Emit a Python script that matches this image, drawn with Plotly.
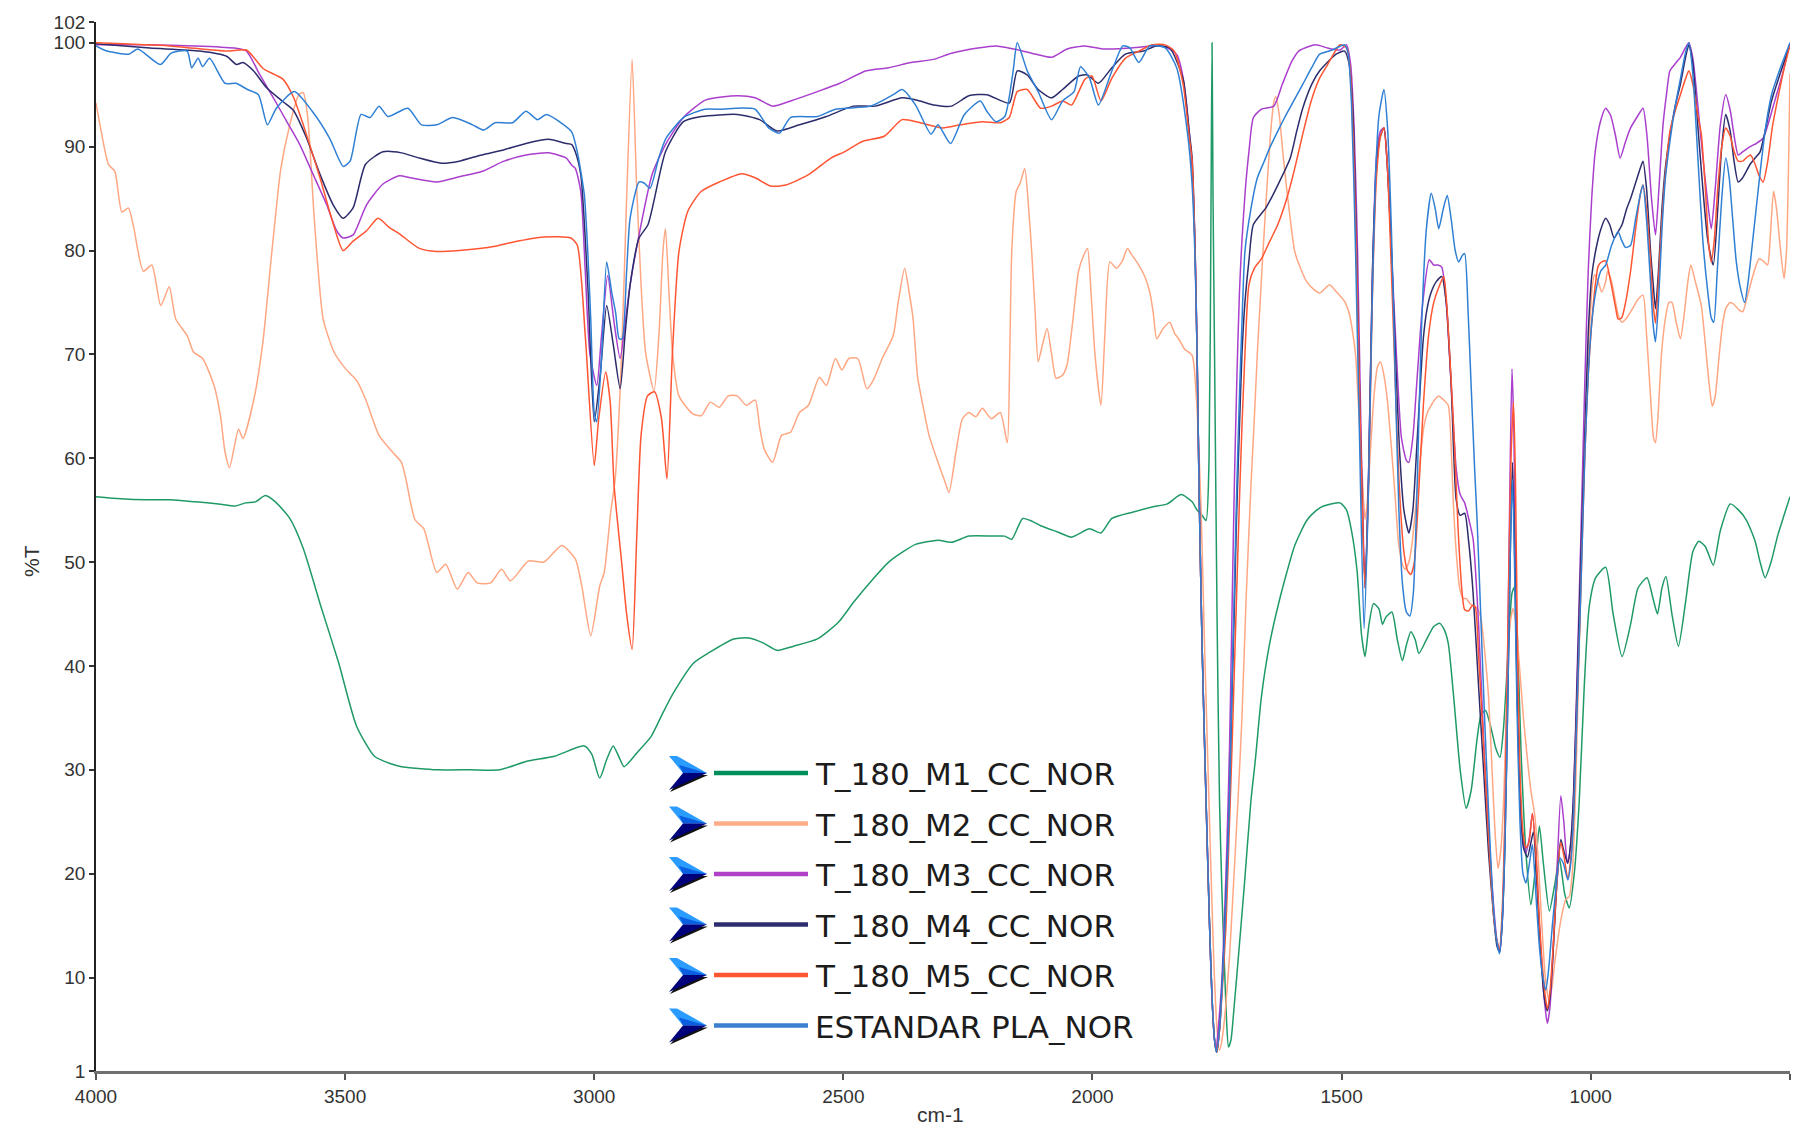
import plotly.graph_objects as go

# ---------------- spectra (wavenumber cm-1, %T) ----------------
wn_m1 = [4000, 3950, 3900, 3850, 3800, 3754, 3720, 3700, 3680, 3660, 3640, 3611, 3584, 3549, 3513, 3477,
         3441, 3410, 3387, 3316, 3250, 3190, 3137, 3080, 3020, 3005, 2989, 2975, 2962, 2950, 2940, 2915,
         2886, 2862, 2841, 2800, 2769, 2720, 2690, 2660, 2633, 2600, 2552, 2510, 2480, 2440, 2409, 2380,
         2355, 2310, 2283, 2248, 2200, 2176, 2162, 2140, 2120, 2104, 2070, 2042, 2006, 1983, 1961, 1920,
         1880, 1850, 1822, 1800, 1790, 1780, 1772, 1766, 1762, 1760, 1758, 1755, 1750, 1745, 1740, 1735,
         1731, 1727, 1722, 1716, 1708, 1695, 1682, 1673, 1661, 1645, 1628, 1610, 1594, 1570, 1550, 1536,
         1503, 1490, 1480, 1469, 1460, 1453, 1445, 1436, 1425, 1418, 1411, 1399, 1388, 1378, 1370, 1361,
         1352, 1345, 1330, 1315, 1303, 1294, 1286, 1275, 1262, 1250, 1240, 1228, 1220, 1211, 1200, 1190,
         1182, 1175, 1165, 1158, 1153, 1148, 1140, 1130, 1120, 1112, 1103, 1095, 1083, 1072, 1063, 1052,
         1043, 1033, 1023, 1013, 1003, 990, 970, 955, 937, 920, 905, 887, 875, 866, 857, 849, 837, 824,
         810, 795, 783, 770, 754, 740, 720, 703, 687, 670, 660, 650, 638, 625, 612, 600]
t_m1 = [56.3, 56.1, 56.0, 56.0, 55.8, 55.6, 55.4, 55.7, 55.8, 56.4, 55.8, 54.2, 51.3, 45.8, 40.3, 34.2,
        31.3, 30.6, 30.3, 30.0, 30.0, 30.0, 30.8, 31.3, 32.3, 31.5, 29.2, 31.0, 32.3, 31.2, 30.3, 31.6,
        33.2, 35.5, 37.4, 40.3, 41.3, 42.6, 42.7, 42.2, 41.5, 41.9, 42.6, 44.2, 46.1, 48.4, 50.0, 51.0,
        51.7, 52.1, 51.9, 52.5, 52.5, 52.5, 52.2, 54.2, 53.9, 53.5, 52.9, 52.4, 53.2, 52.8, 54.2, 54.8,
        55.3, 55.6, 56.5, 55.8, 55.0, 54.5, 54.0, 60.0, 85.0, 100.0, 85.0, 70.0, 45.0, 27.0, 18.0, 11.0,
        6.0, 3.3, 4.0, 7.0, 11.5, 19.0, 27.0, 31.0, 37.0, 42.0, 45.7, 49.0, 51.6, 54.0, 55.0, 55.4,
        55.7, 55.0, 53.0, 49.2, 43.0, 40.9, 44.0, 46.0, 45.5, 44.0, 44.7, 45.2, 42.5, 40.5, 42.0, 43.3,
        42.5, 41.2, 42.5, 43.8, 44.1, 43.5, 42.2, 37.0, 30.0, 26.3, 28.0, 33.0, 35.3, 35.7, 34.0, 32.0,
        31.2, 34.0, 42.0, 47.0, 47.6, 44.0, 32.0, 22.0, 17.0, 20.0, 24.6, 21.0, 16.4, 19.0, 21.5, 18.0,
        16.7, 20.0, 27.0, 38.0, 45.7, 48.5, 49.5, 45.0, 40.9, 44.0, 47.5, 48.5, 46.5, 45.0, 47.5, 48.6, 45.0, 41.9,
        46.0, 51.0, 52.0, 51.5, 49.7, 53.0, 55.6, 55.0, 54.0, 52.0, 50.0, 48.5, 50.0, 52.5, 54.5, 56.3]

wn_m2 = [4000, 3992, 3975, 3962, 3948, 3935, 3925, 3905, 3888, 3870, 3853, 3840, 3817, 3804, 3786, 3763,
         3750, 3741, 3732, 3714, 3705, 3683, 3665, 3647, 3629, 3611, 3593, 3584, 3575, 3562, 3544, 3522,
         3499, 3477, 3459, 3432, 3405, 3387, 3378, 3360, 3342, 3316, 3298, 3275, 3253, 3235, 3208, 3186,
         3168, 3132, 3101, 3065, 3038, 3025, 3007, 2989, 2980, 2967, 2958, 2945, 2935, 2924, 2915, 2906,
         2897, 2880, 2870, 2862, 2857, 2850, 2843, 2830, 2803, 2785, 2767, 2749, 2731, 2713, 2695, 2677,
         2668, 2659, 2642, 2624, 2606, 2588, 2570, 2548, 2534, 2516, 2503, 2489, 2471, 2453, 2440, 2422,
         2400, 2390, 2377, 2368, 2360, 2351, 2340, 2328, 2310, 2298, 2288, 2274, 2261, 2248, 2234, 2221,
         2203, 2185, 2171, 2166, 2162, 2153, 2145, 2136, 2128, 2122, 2115, 2109, 2100, 2091, 2082, 2073,
         2060, 2051, 2040, 2028, 2018, 2010, 2003, 1995, 1983, 1975, 1965, 1952, 1940, 1930, 1920, 1907,
         1895, 1885, 1878, 1871, 1858, 1845, 1835, 1827, 1815, 1800, 1791, 1782, 1775, 1768, 1762, 1756,
         1750, 1745, 1740, 1733, 1725, 1718, 1708, 1700, 1692, 1682, 1675, 1669, 1660, 1652, 1643, 1636,
         1632, 1625, 1618, 1611, 1603, 1594, 1580, 1570, 1557, 1544, 1530, 1524, 1510, 1494, 1485, 1478,
         1472, 1466, 1461, 1456, 1453, 1449, 1443, 1435, 1428, 1422, 1415, 1408, 1400, 1392, 1386, 1378,
         1372, 1365, 1358, 1350, 1342, 1335, 1327, 1320, 1312, 1305, 1295, 1286, 1280, 1276, 1270, 1263,
         1256, 1250, 1242, 1235, 1227, 1220, 1212, 1205, 1198, 1192, 1186, 1180, 1174, 1168, 1162, 1156,
         1150, 1143, 1135, 1127, 1120, 1112, 1105, 1098, 1092, 1087, 1083, 1078, 1072, 1065, 1058, 1050,
         1043, 1037, 1031, 1025, 1018, 1010, 1003, 997, 992, 985, 978, 970, 966, 958, 950, 943, 937, 928,
         916, 905, 895, 888, 880, 874, 870, 865, 858, 850, 843, 837, 828, 820, 812, 805, 799, 790, 778,
         770, 762, 756, 750, 742, 735, 729, 720, 712, 703, 695, 686, 675, 662, 654, 645, 640, 633, 627,
         620, 612, 607, 603, 600]
t_m2 = [94.2, 92.1, 88.3, 87.6, 83.7, 84.1, 82.4, 78.0, 78.6, 74.7, 76.5, 73.4, 71.8, 70.2, 69.6, 67.0,
        64.0, 60.6, 59.1, 62.8, 61.9, 65.7, 71.2, 79.9, 87.9, 92.1, 95.0, 95.2, 92.8, 83.1, 73.4, 70.2,
        68.6, 67.5, 65.7, 62.2, 60.6, 59.6, 58.0, 54.1, 53.2, 49.0, 49.8, 47.4, 49.0, 48.0, 48.0, 49.3,
        48.2, 50.1, 50.0, 51.6, 50.3, 47.7, 42.9, 47.7, 49.0, 54.8, 58.0, 70.0, 85.0, 98.4, 86.3, 76.7,
        70.2, 66.5, 72.0, 80.0, 82.1, 76.0, 70.2, 66.0, 64.3, 64.1, 65.4, 64.9, 66.0, 66.0, 65.1, 65.6,
        63.0, 60.9, 59.6, 62.2, 62.5, 64.4, 65.1, 67.8, 67.0, 69.6, 68.5, 69.6, 69.6, 66.7, 67.5, 69.6,
        71.8, 75.0, 78.3, 76.0, 73.4, 67.8, 65.0, 62.2, 59.6, 58.0, 56.7, 60.6, 63.8, 64.4, 64.0, 64.8,
        63.8, 64.4, 61.5, 70.0, 79.9, 85.7, 86.5, 87.9, 84.0, 79.9, 74.0, 69.3, 71.0, 72.5, 70.0, 67.7,
        68.0, 69.0, 73.0, 78.0, 79.5, 80.2, 76.0, 70.0, 65.1, 72.0, 78.9, 78.3, 79.0, 80.2, 79.5, 78.6,
        77.5, 76.0, 74.0, 71.5, 72.5, 73.1, 72.0, 71.5, 70.5, 69.9, 65.4, 55.0, 42.0, 30.0, 20.0, 11.0,
        5.0, 3.0, 4.0, 7.0, 12.0, 18.0, 27.0, 35.0, 46.0, 57.3, 64.0, 70.2, 78.0, 84.4, 91.0, 94.3,
        94.8, 93.0, 89.5, 86.3, 83.0, 79.9, 78.0, 77.0, 76.3, 75.9, 76.5, 76.7, 76.0, 75.1, 74.0, 72.2,
        70.0, 65.0, 60.6, 56.0, 54.1, 55.5, 60.0, 66.0, 68.8, 69.3, 68.0, 65.5, 61.0, 56.0, 52.0, 49.8,
        49.3, 50.0, 52.0, 56.0, 60.0, 63.0, 64.5, 65.1, 65.7, 66.0, 65.6, 65.1, 61.0, 56.0, 51.0, 47.5,
        46.5, 46.5, 46.0, 45.8, 45.5, 44.5, 41.0, 37.0, 30.0, 24.0, 20.5, 22.5, 28.0, 38.0, 44.0, 45.5,
        44.0, 40.0, 35.0, 31.0, 28.0, 25.5, 21.0, 15.0, 10.5, 8.5, 7.8, 9.0, 11.5, 14.0, 16.0, 17.5,
        17.8, 20.0, 27.0, 38.0, 52.0, 64.0, 72.0, 76.5, 77.7, 77.0, 76.0, 77.0, 78.0, 77.0, 75.0, 73.5, 73.1, 73.5,
        74.4, 75.3, 75.7, 72.0, 66.0, 62.0, 61.5, 64.0, 70.0, 73.5, 75.0, 75.0, 73.0, 71.5, 74.0, 77.0, 78.6, 77.0, 74.7,
        71.0, 67.0, 65.0, 66.0, 70.0, 73.0, 74.4, 75.0, 74.8, 74.3, 74.1, 75.5, 77.5, 79.2, 79.0, 78.6, 81.0, 85.7, 84.0,
        80.5, 77.3, 80.0, 88.0, 97.0]

wn_m3 = [4000, 3900, 3800, 3724, 3698, 3671, 3644, 3617, 3591, 3564, 3537, 3517, 3504, 3484, 3457, 3424,
         3391, 3369, 3316, 3271, 3226, 3181, 3137, 3092, 3056, 3045, 3038, 3027, 3018, 3009, 2995, 2985,
         2973, 2960, 2948, 2938, 2928, 2906, 2884, 2857, 2821, 2776, 2713, 2677, 2642, 2606, 2552, 2507,
         2454, 2409, 2364, 2319, 2283, 2230, 2194, 2158, 2122, 2082, 2051, 2015, 1979, 1925, 1863, 1845,
         1830, 1818, 1806, 1800, 1794, 1790, 1786, 1780, 1772, 1765, 1760, 1755, 1752, 1746, 1740, 1735,
         1730, 1725, 1720, 1715, 1710, 1705, 1700, 1693, 1686, 1677, 1661, 1636, 1619, 1600, 1586, 1553,
         1528, 1503, 1490, 1482, 1475, 1468, 1460, 1453, 1446, 1438, 1430, 1422, 1415, 1408, 1400, 1390,
         1380, 1370, 1365, 1357, 1348, 1337, 1324, 1315, 1307, 1299, 1290, 1280, 1270, 1262, 1253, 1244,
         1236, 1225, 1215, 1205, 1195, 1188, 1182, 1177, 1172, 1167, 1162, 1158, 1154, 1150, 1145, 1138,
         1130, 1123, 1117, 1110, 1103, 1095, 1090, 1087, 1082, 1076, 1068, 1060, 1054, 1047, 1042, 1035,
         1028, 1020, 1012, 1005, 998, 991, 980, 970, 960, 950, 941, 930, 920, 905, 895, 887, 878, 870,
         863, 855, 848, 841, 830, 820, 810, 803, 795, 785, 775, 766, 758, 750, 740, 729, 720, 712, 704,
         695, 680, 668, 654, 645, 630, 615, 600]
t_m3 = [99.8, 99.8, 99.7, 99.5, 99.2, 96.9, 94.7, 92.4, 90.2, 87.3, 84.4, 81.9, 81.2, 81.5, 84.4, 86.4,
        87.2, 87.0, 86.6, 87.1, 87.6, 88.6, 89.2, 89.4, 88.9, 88.2, 87.9, 85.7, 78.0, 70.2, 67.0, 72.0,
        77.6, 73.0, 69.6, 73.0, 76.7, 82.5, 87.3, 90.2, 92.8, 94.5, 94.9, 94.7, 93.9, 94.4, 95.3, 96.1,
        97.3, 97.6, 98.1, 98.4, 99.0, 99.5, 99.7, 99.4, 99.0, 98.6, 99.4, 99.7, 99.4, 99.5, 99.7, 99.4,
        98.8, 96.6, 91.5, 87.9, 80.0, 70.0, 57.0, 42.0, 27.0, 15.0, 8.0, 4.0, 3.0, 6.0, 10.0, 16.0,
        23.0, 32.0, 45.0, 58.0, 68.0, 76.0, 81.0, 86.0, 89.5, 92.8, 93.6, 93.9, 96.0, 98.2, 99.2, 99.8,
        99.5, 99.3, 99.8, 98.0, 92.0, 80.0, 60.0, 47.8, 58.0, 78.0, 89.0, 91.5, 91.8, 88.0, 80.0, 70.0,
        62.0, 59.8, 59.6, 62.0, 68.0, 75.0, 79.1, 78.6, 78.6, 78.4, 75.0, 67.0, 59.0, 56.5, 55.7, 54.0,
        52.2, 44.0, 33.0, 24.0, 17.0, 13.5, 12.5, 16.0, 25.0, 40.0, 58.0, 68.6, 62.0, 45.0, 32.0, 24.0,
        22.0, 23.5, 25.8, 22.0, 15.0, 9.0, 6.5, 5.6, 7.0, 12.0, 20.0, 27.5, 25.0, 21.0, 22.0, 27.0,
        38.0, 52.0, 67.0, 78.0, 85.0, 89.5, 92.5, 93.7, 93.0, 91.0, 88.9, 90.5, 91.8, 93.0, 93.7, 91.0, 85.0, 81.5,
        86.0, 92.0, 95.0, 97.3, 98.0, 98.6, 99.5, 100.0, 98.5, 94.0, 89.0, 85.0, 82.1, 86.0, 92.0, 95.0, 93.5, 91.0, 89.2,
        89.5, 90.0, 90.3, 90.8, 92.0, 94.5, 97.0, 100.0]

wn_m4 = [4000, 3892, 3792, 3738, 3718, 3705, 3684, 3658, 3624, 3604, 3578, 3551, 3524, 3504, 3484, 3459,
         3424, 3387, 3351, 3307, 3271, 3226, 3181, 3137, 3092, 3056, 3045, 3038, 3027, 3013, 3000, 2988,
         2975, 2962, 2948, 2938, 2928, 2910, 2892, 2857, 2821, 2785, 2713, 2668, 2633, 2588, 2534, 2480,
         2436, 2382, 2346, 2319, 2283, 2248, 2212, 2167, 2151, 2131, 2109, 2082, 2060, 2028, 2010, 1988,
         1961, 1934, 1898, 1872, 1845, 1818, 1806, 1800, 1794, 1790, 1786, 1780, 1772, 1765, 1760, 1755,
         1751, 1745, 1740, 1735, 1730, 1725, 1720, 1715, 1711, 1705, 1700, 1694, 1686, 1677, 1652, 1628,
         1603, 1590, 1578, 1560, 1544, 1511, 1494, 1485, 1477, 1470, 1462, 1453, 1446, 1438, 1430, 1422,
         1415, 1408, 1400, 1392, 1384, 1375, 1365, 1357, 1348, 1336, 1328, 1320, 1310, 1299, 1290, 1280,
         1270, 1262, 1253, 1245, 1236, 1225, 1215, 1205, 1195, 1188, 1183, 1178, 1172, 1166, 1161, 1157,
         1153, 1148, 1142, 1135, 1127, 1120, 1115, 1108, 1100, 1093, 1087, 1082, 1076, 1068, 1060, 1053,
         1046, 1040, 1034, 1028, 1020, 1012, 1005, 998, 990, 980, 970, 962, 953, 945, 937, 928, 920, 910,
         900, 895, 888, 880, 875, 870, 864, 857, 850, 841, 830, 820, 810, 803, 795, 785, 775, 765, 754,
         745, 737, 729, 720, 712, 704, 695, 680, 670, 660, 650, 637, 620, 600]
t_m4 = [99.9, 99.5, 99.2, 98.7, 97.9, 98.1, 97.3, 95.7, 94.3, 93.5, 90.9, 87.4, 84.4, 83.1, 84.1, 88.3,
        89.5, 89.4, 88.9, 88.4, 88.6, 89.2, 89.7, 90.3, 90.7, 90.3, 90.2, 89.5, 87.3, 76.7, 63.5, 68.0,
        74.7, 71.0, 66.7, 72.0, 76.7, 81.2, 82.5, 89.5, 92.4, 92.9, 93.1, 92.6, 91.5, 92.1, 92.9, 93.9,
        93.9, 94.7, 94.4, 94.0, 93.9, 94.9, 95.0, 94.2, 97.3, 96.9, 95.5, 94.7, 95.5, 96.8, 96.9, 96.1,
        97.6, 98.9, 99.2, 99.7, 99.5, 96.5, 91.5, 88.9, 80.0, 70.0, 57.0, 42.0, 27.0, 15.0, 8.0, 4.0,
        2.8, 5.0, 9.0, 14.0, 20.0, 27.0, 37.0, 46.0, 54.0, 63.0, 70.0, 75.0, 79.0, 82.5, 84.1, 86.3,
        88.9, 91.5, 93.7, 96.0, 97.3, 98.9, 99.2, 98.0, 93.0, 80.0, 62.0, 47.5, 58.0, 78.0, 88.0, 91.0,
        91.8, 88.0, 80.0, 70.0, 61.0, 55.0, 52.8, 55.0, 62.0, 71.5, 74.5, 76.0, 77.0, 77.5, 75.0, 67.0,
        56.0, 54.5, 54.7, 52.0, 47.0, 38.0, 30.0, 22.0, 16.0, 13.0, 12.5, 15.0, 23.0, 38.0, 52.0, 59.6,
        52.0, 38.0, 28.0, 22.5, 21.6, 23.0, 24.0, 19.0, 12.0, 8.0, 6.8, 8.0, 12.0, 19.0, 23.3, 22.0,
        21.0, 23.0, 28.0, 37.0, 50.0, 62.0, 72.0, 77.5, 80.0, 82.0, 83.1, 82.5, 81.2, 81.8, 82.5, 84.0, 85.0, 86.5,
        88.0, 88.6, 86.0, 80.0, 77.0, 74.4, 78.0, 84.0, 88.0, 91.1, 94.0, 96.0, 98.5, 99.8, 98.0, 92.0, 86.0, 81.0, 78.6,
        84.0, 90.0, 93.1, 91.5, 88.5, 86.6, 87.0, 88.3, 88.9, 89.5, 91.5, 94.4, 97.0, 99.8]

wn_m5 = [4000, 3853, 3737, 3698, 3664, 3625, 3604, 3584, 3551, 3524, 3504, 3484, 3457, 3434, 3411, 3391,
         3351, 3316, 3271, 3199, 3164, 3101, 3047, 3034, 3018, 3000, 2991, 2977, 2968, 2960, 2945, 2935,
         2924, 2915, 2906, 2893, 2879, 2865, 2854, 2843, 2830, 2812, 2785, 2749, 2704, 2677, 2646, 2615,
         2570, 2525, 2498, 2462, 2418, 2382, 2346, 2301, 2265, 2221, 2185, 2167, 2151, 2131, 2104, 2082,
         2060, 2042, 2015, 2001, 1983, 1961, 1934, 1907, 1880, 1854, 1836, 1818, 1806, 1800, 1794, 1790,
         1786, 1780, 1772, 1765, 1760, 1755, 1750, 1744, 1738, 1732, 1727, 1720, 1715, 1710, 1705, 1700,
         1694, 1686, 1675, 1661, 1645, 1628, 1610, 1594, 1578, 1561, 1545, 1528, 1515, 1503, 1490, 1483,
         1476, 1468, 1460, 1453, 1446, 1438, 1430, 1422, 1415, 1408, 1400, 1392, 1385, 1375, 1368, 1361,
         1354, 1346, 1336, 1325, 1315, 1303, 1295, 1290, 1283, 1274, 1266, 1258, 1253, 1245, 1238, 1232,
         1225, 1218, 1210, 1202, 1195, 1188, 1183, 1178, 1172, 1166, 1160, 1155, 1151, 1147, 1142, 1136,
         1130, 1124, 1117, 1110, 1103, 1096, 1090, 1087, 1082, 1076, 1068, 1060, 1053, 1046, 1040, 1034,
         1028, 1020, 1012, 1005, 998, 990, 985, 978, 970, 960, 950, 945, 938, 930, 920, 910, 900, 895, 888,
         880, 875, 870, 864, 857, 850, 841, 830, 820, 810, 803, 795, 785, 778, 770, 763, 758, 752, 745,
         737, 729, 720, 712, 704, 695, 686, 679, 670, 662, 654, 645, 635, 625, 612, 600]
t_m5 = [100.0, 99.7, 99.2, 99.3, 97.5, 96.5, 94.8, 92.1, 87.1, 82.6, 80.0, 80.9, 81.9, 83.1, 82.2, 81.6,
        80.2, 79.9, 80.0, 80.4, 80.8, 81.3, 81.2, 80.5, 71.8, 59.3, 63.8, 68.3, 65.4, 57.3, 50.0, 45.0,
        41.6, 52.0, 62.2, 66.0, 66.4, 63.8, 58.0, 70.2, 79.9, 83.8, 85.7, 86.6, 87.4, 87.0, 86.2, 86.3,
        87.3, 88.9, 89.5, 90.5, 91.0, 92.6, 92.3, 91.8, 92.1, 92.4, 92.3, 92.8, 95.3, 95.5, 93.7, 93.9,
        94.4, 94.0, 96.5, 96.8, 94.4, 96.6, 98.5, 99.2, 99.8, 99.8, 99.2, 96.0, 91.0, 88.6, 80.0, 70.0,
        57.0, 42.0, 27.0, 15.0, 8.0, 4.0, 2.8, 5.5, 10.0, 15.0, 22.0, 32.0, 40.0, 48.0, 56.0, 63.0,
        70.0, 76.7, 78.3, 79.2, 80.8, 82.5, 85.0, 87.9, 91.2, 94.4, 96.5, 97.9, 99.0, 99.8, 99.5, 97.5,
        90.0, 75.0, 58.0, 47.5, 57.0, 76.0, 87.0, 91.0, 91.8, 88.0, 78.0, 67.0, 58.0, 51.0, 49.2, 48.8,
        50.0, 56.0, 65.0, 72.0, 75.0, 76.7, 77.5, 75.5, 70.0, 61.9, 53.0, 47.0, 45.4, 45.3, 45.8, 45.7,
        41.0, 35.0, 28.0, 21.0, 16.0, 13.5, 12.8, 16.0, 26.0, 44.0, 60.0, 65.4, 58.0, 42.0, 30.0, 24.0,
        22.5, 23.0, 25.8, 22.0, 15.5, 10.5, 7.8, 7.0, 8.5, 12.5, 19.0, 23.0, 21.5, 19.5, 21.5, 26.0,
        35.0, 47.0, 60.0, 68.0, 73.0, 77.0, 78.5, 78.9, 79.0, 77.0, 74.5, 73.4, 73.5, 75.0, 78.0, 82.0, 85.5, 86.3, 84.0,
        79.0, 75.0, 73.0, 77.0, 83.0, 87.5, 91.5, 93.5, 95.0, 96.5, 97.3, 96.0, 93.0, 91.2, 86.0, 80.5, 78.9, 81.0, 86.0,
        90.0, 91.8, 91.0, 89.5, 88.6, 88.6, 89.0, 89.2, 88.3, 87.2, 86.6, 88.5, 92.0, 94.5, 97.5, 99.8]

wn_pla = [4000, 3978, 3934, 3916, 3871, 3849, 3817, 3808, 3795, 3786, 3772, 3741, 3719, 3696, 3674, 3656,
          3638, 3602, 3566, 3531, 3504, 3490, 3468, 3450, 3432, 3414, 3374, 3347, 3316, 3284, 3244, 3222,
          3199, 3164, 3137, 3114, 3096, 3061, 3045, 3034, 3020, 3013, 3007, 3000, 2995, 2985, 2975, 2965,
          2957, 2950, 2944, 2935, 2928, 2910, 2900, 2888, 2870, 2856, 2821, 2778, 2743, 2716, 2677, 2660,
          2650, 2628, 2606, 2552, 2516, 2445, 2400, 2382, 2355, 2324, 2310, 2285, 2257, 2225, 2212, 2194,
          2176, 2160, 2151, 2131, 2109, 2082, 2060, 2037, 2024, 2006, 1988, 1961, 1939, 1925, 1907, 1885,
          1854, 1831, 1809, 1800, 1794, 1790, 1786, 1780, 1772, 1765, 1760, 1755, 1751, 1745, 1740, 1735,
          1730, 1725, 1720, 1715, 1711, 1705, 1700, 1694, 1682, 1669, 1656, 1644, 1628, 1611, 1595, 1578,
          1560, 1544, 1519, 1494, 1487, 1480, 1472, 1464, 1455, 1447, 1440, 1432, 1425, 1415, 1408, 1400,
          1392, 1385, 1378, 1370, 1363, 1356, 1348, 1340, 1330, 1320, 1312, 1305, 1296, 1288, 1280, 1272,
          1265, 1258, 1253, 1246, 1240, 1233, 1228, 1220, 1213, 1205, 1197, 1190, 1183, 1178, 1172, 1166,
          1161, 1157, 1153, 1148, 1142, 1136, 1130, 1123, 1117, 1110, 1103, 1096, 1090, 1084, 1077, 1070,
          1062, 1055, 1046, 1040, 1034, 1028, 1020, 1012, 1005, 998, 990, 980, 970, 958, 945, 938, 930,
          920, 910, 900, 895, 888, 880, 875, 870, 864, 857, 850, 841, 830, 820, 810, 803, 795, 785, 775,
          765, 758, 753, 746, 737, 729, 722, 715, 708, 700, 691, 684, 677, 670, 660, 650, 637, 620, 600]
t_pla = [99.7, 99.2, 98.9, 99.4, 97.9, 99.0, 99.2, 97.6, 98.5, 97.7, 98.5, 96.1, 96.1, 95.5, 95.0, 92.1,
         93.7, 95.3, 93.4, 90.8, 88.1, 88.6, 93.1, 92.8, 93.9, 92.9, 93.7, 92.1, 92.1, 92.8, 92.1, 91.6,
         92.3, 92.3, 93.4, 92.6, 93.1, 92.1, 91.4, 89.5, 85.4, 79.9, 73.4, 64.4, 63.5, 70.0, 78.9, 76.0,
         74.0, 71.5, 71.5, 78.0, 83.1, 86.6, 86.5, 86.0, 89.0, 90.8, 92.8, 93.6, 93.6, 93.7, 93.6, 92.5,
         91.8, 91.3, 92.8, 92.9, 93.6, 93.9, 95.0, 95.5, 94.0, 91.2, 92.1, 90.3, 93.1, 94.4, 93.4, 92.4,
         92.9, 97.0, 100.0, 97.3, 95.3, 92.6, 94.4, 95.3, 97.7, 96.6, 94.0, 97.3, 99.7, 99.5, 98.1, 99.7,
         99.5, 97.6, 91.2, 86.3, 79.0, 70.0, 57.0, 42.0, 27.0, 15.0, 8.0, 4.0, 2.8, 5.0, 9.0, 14.0,
         20.0, 27.0, 38.0, 48.0, 56.0, 66.0, 73.0, 79.9, 84.0, 87.0, 88.5, 89.9, 91.5, 93.1, 94.5, 96.0,
         97.6, 98.9, 99.3, 99.8, 99.0, 94.0, 80.0, 62.0, 43.6, 55.0, 72.0, 87.0, 93.0, 95.5, 92.0, 82.0,
         67.0, 55.0, 48.0, 45.2, 44.8, 47.0, 58.0, 72.0, 82.0, 85.5, 84.0, 82.1, 84.0, 85.3, 83.0, 80.0,
         78.9, 79.5, 79.7, 74.0, 67.0, 59.0, 54.0, 44.0, 35.0, 26.0, 18.0, 14.0, 12.3, 15.0, 23.0, 38.0,
         52.0, 58.0, 50.0, 36.0, 25.0, 20.0, 19.1, 21.0, 22.8, 18.0, 13.0, 10.0, 8.8, 11.0, 15.0, 18.5,
         21.5, 21.0, 19.4, 21.0, 26.0, 35.0, 47.0, 60.0, 68.0, 73.0, 76.0, 78.0, 78.6, 80.5, 81.8, 81.0, 80.3,
         80.5, 83.0, 85.5, 86.3, 83.0, 77.0, 73.0, 71.2, 75.0, 82.0, 87.0, 90.5, 94.0, 96.5, 99.0, 100.0, 97.0, 89.0, 81.0,
         76.0, 73.5, 73.1, 78.0, 85.0, 88.9, 87.0, 83.0, 79.0, 76.5, 75.0, 77.0, 80.0, 83.1, 87.5, 91.5, 95.0, 97.5, 100.0]

series_names = ["T_180_M1_CC_NOR", "T_180_M2_CC_NOR", "T_180_M3_CC_NOR",
                "T_180_M4_CC_NOR", "T_180_M5_CC_NOR", "ESTANDAR PLA_NOR"]
series_wn = [wn_m1, wn_m2, wn_m3, wn_m4, wn_m5, wn_pla]
series_t = [t_m1, t_m2, t_m3, t_m4, t_m5, t_pla]

# axis ticks
x_ticks = [4000, 3500, 3000, 2500, 2000, 1500, 1000, 600]
y_ticks = [1, 10, 20, 30, 40, 50, 60, 70, 80, 90, 100, 102]

# ---------------- styling ----------------
line_colors = ["#1f9a66", "#ffa783", "#aa3fcd", "#2c2c6c", "#ff5532", "#2f80d4"]
key_colors = ["#008f5a", "#ffac88", "#b040c8", "#2c2c6e", "#ff5533", "#3a7fd0"]

W, H = 1805, 1127
L, R, T, B = 96, 15, 22, 56
PW, PH = W - L - R, H - T - B


def px(x):
    return (x - L) / PW


def py(y):
    return (H - B - y) / PH


fig = go.Figure()
for name, xs, ys, col in zip(series_names, series_wn, series_t, line_colors):
    fig.add_trace(go.Scatter(x=xs, y=ys, mode="lines", name=name,
                             line=dict(color=col, width=1.5, shape="spline", smoothing=0.6),
                             showlegend=False, hoverinfo="skip"))

tick_font = dict(family="Liberation Sans Narrow, Arial Narrow, Liberation Sans, Arial", size=19, color="#333333")

fig.update_layout(
    width=W, height=H,
    margin=dict(l=L, r=R, t=T, b=B),
    paper_bgcolor="white", plot_bgcolor="white",
    xaxis=dict(range=[4000, 600], tickvals=x_ticks, ticktext=[str(v) for v in x_ticks],
               showgrid=False, zeroline=False, showline=True, linecolor="#707070", linewidth=2.5,
               ticks="outside", ticklen=6, tickwidth=1.5, tickcolor="#555555", tickfont=tick_font),
    yaxis=dict(range=[1, 102], tickvals=y_ticks, ticktext=[str(v) for v in y_ticks],
               showgrid=False, zeroline=False, showline=True, linecolor="#222222", linewidth=1.8,
               ticks="outside", ticklen=5, tickwidth=1.5, tickcolor="#333333", tickfont=tick_font),
)

# axis titles
fig.add_annotation(text="cm-1", x=px(940), y=py(1114), xref="paper", yref="paper",
                   showarrow=False, xanchor="center", yanchor="middle",
                   font=dict(family="Liberation Sans Narrow, Arial Narrow, Liberation Sans", size=21, color="#333333"))
fig.add_annotation(text="%T", x=px(31), y=py(561), xref="paper", yref="paper",
                   showarrow=False, textangle=-90, xanchor="center", yanchor="middle",
                   font=dict(family="Liberation Sans Narrow, Arial Narrow, Liberation Sans", size=21, color="#333333"))

# key: chevron marker, colour swatch and label for each series
row_y = [773, 823.5, 874, 924.5, 975, 1025.5]
shapes = []


def poly(points):
    d = "M " + " L ".join(f"{px(x):.5f},{py(y):.5f}" for x, y in points) + " Z"
    return d


for name, cy, col in zip(series_names, row_y, key_colors):
    x0 = 669
    # shadow of the lower arm
    shapes.append(dict(type="path", xref="paper", yref="paper", line=dict(width=0), fillcolor="#111111",
                       path=poly([(x0 + 15, cy + 2), (x0 + 39, cy + 2), (x0 + 1, cy + 19)])))
    # upper arm (light blue)
    shapes.append(dict(type="path", xref="paper", yref="paper", line=dict(width=0), fillcolor="#2a9bff",
                       path=poly([(x0, cy - 17), (x0 + 8, cy - 17), (x0 + 38, cy), (x0 + 14, cy)])))
    shapes.append(dict(type="path", xref="paper", yref="paper", line=dict(width=0), fillcolor="#0a5ee0",
                       path=poly([(x0 + 10, cy - 8), (x0 + 38, cy), (x0 + 14, cy)])))
    # lower arm (navy)
    shapes.append(dict(type="path", xref="paper", yref="paper", line=dict(width=0), fillcolor="#00007a",
                       path=poly([(x0 + 14, cy), (x0 + 38, cy), (x0, cy + 17)])))
    # colour swatch
    shapes.append(dict(type="line", xref="paper", yref="paper", x0=px(714), x1=px(808), y0=py(cy), y1=py(cy),
                       line=dict(color=col, width=4.5)))
    fig.add_annotation(text=name, x=px(813), y=py(cy + 1), xref="paper", yref="paper", showarrow=False,
                       xanchor="left", yanchor="middle",
                       font=dict(family="DejaVu Sans, Verdana", size=31, color="#1c1c1c"))

fig.update_layout(shapes=shapes)

fig.write_html("out.html")
